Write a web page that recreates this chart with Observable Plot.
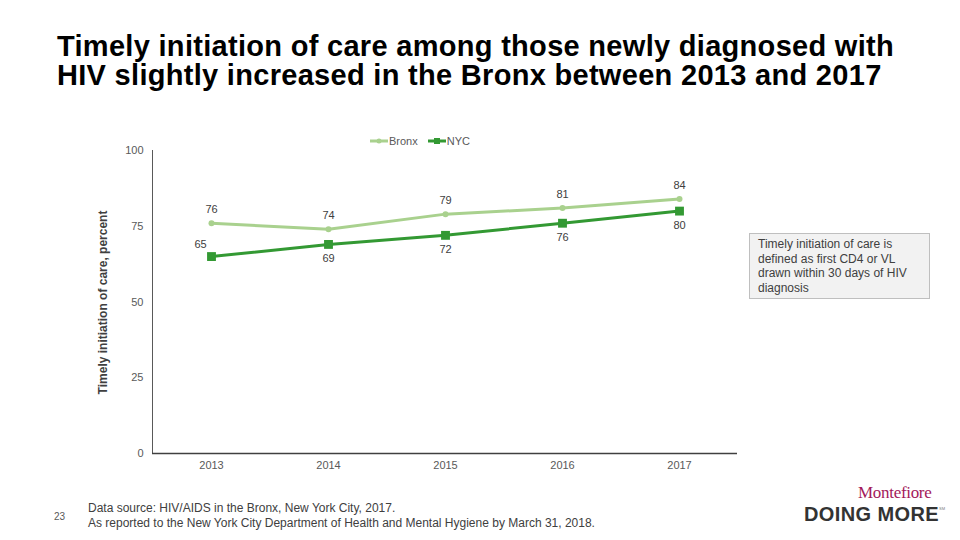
<!DOCTYPE html>
<html>
<head>
<meta charset="utf-8">
<script src="https://cdn.jsdelivr.net/npm/d3@7"></script>
<script src="https://cdn.jsdelivr.net/npm/@observablehq/plot@0.6"></script>
<style>
  html, body { margin: 0; padding: 0; background: #fff; }
  body { width: 960px; height: 540px; position: relative; overflow: hidden; font-family: "Liberation Sans", Arial, sans-serif; }
  #title { position: absolute; left: 57px; top: 32px; font-size: 29px; font-weight: bold; color: #000; line-height: 29px; letter-spacing: 0.3px; }
  #chart { position: absolute; left: 0; top: 130px; }
  #legend { position: absolute; left: 370px; top: 135px; font-size: 11px; color: #595959; display: flex; align-items: center; }
  #legend .item { display: flex; align-items: center; margin-right: 10px; }
  #note { position: absolute; left: 749px; top: 233px; width: 164px; height: 57px; background: #f2f2f2; border: 1px solid #bfbfbf; padding: 3px 7px 4px 8px; font-size: 12px; line-height: 14.5px; color: #404040; }
  #page { position: absolute; left: 54px; top: 511px; font-size: 10px; color: #595959; }
  #source { position: absolute; left: 88px; top: 501px; font-size: 12px; line-height: 15px; color: #404040; }
  #logo1 { position: absolute; left: 858px; top: 485px; line-height: 15px; font-family: "Liberation Serif", "DejaVu Serif", serif; font-size: 17px; color: #a3195b; letter-spacing: -0.3px; }
  #logo2 { position: absolute; left: 804px; top: 505px; line-height: 18px; font-size: 20px; font-weight: bold; color: #333; letter-spacing: 0.4px; }
  #sm { position: absolute; left: 939px; top: 507px; line-height: 4px; font-size: 4px; color: #777; }
</style>
</head>
<body>
<div id="title">Timely initiation of care among those newly diagnosed with<br>HIV slightly increased in the Bronx between 2013 and 2017</div>
<div id="chart"></div>
<div id="legend"></div>
<div id="note">Timely initiation of care is defined as first CD4 or VL drawn within 30 days of HIV diagnosis</div>
<div id="page">23</div>
<div id="source">Data source: HIV/AIDS in the Bronx, New York City, 2017.<br>As reported to the New York City Department of Health and Mental Hygiene by March 31, 2018.</div>
<div id="logo1">Montefiore</div>
<div id="logo2">DOING MORE</div>
<div id="sm">SM</div>
<script>
const years = ["2013", "2014", "2015", "2016", "2017"];
const bronx = [76, 74, 79, 81, 84];
const nyc = [65, 69, 72, 76, 80];
const yTicks = [0, 25, 50, 75, 100];
const seriesNames = ["Bronx", "NYC"];
const seriesColors = ["#a9d18e", "#339933"];

const rows = [];
years.forEach((y, i) => {
  rows.push({year: y, series: "Bronx", value: bronx[i]});
  rows.push({year: y, series: "NYC", value: nyc[i]});
});
const bRows = rows.filter(d => d.series === "Bronx");
const nRows = rows.filter(d => d.series === "NYC");
const nFirst = nRows.filter(d => d.year === years[0]);
const nRest = nRows.filter(d => d.year !== years[0]);

const chart = Plot.plot({
  width: 960,
  height: 350,
  marginTop: 20,
  marginBottom: 27,
  marginLeft: 152,
  marginRight: 223,
  style: {fontFamily: "Liberation Sans, Arial, sans-serif", fontSize: "11px", color: "#595959", background: "transparent"},
  x: {type: "point", domain: years, padding: 0.5, label: null},
  y: {domain: [0, 100], label: null},
  marks: [
    Plot.axisY({ticks: yTicks, tickSize: 0, tickPadding: 9, label: null, fill: "#595959"}),
    Plot.axisX({tickSize: 0, tickPadding: 8, label: null, fill: "#595959"}),
    Plot.frame({anchor: "left", stroke: "#595959"}),
    Plot.ruleY([0], {stroke: "#404040", strokeWidth: 1.3}),
    Plot.line(bRows, {x: "year", y: "value", stroke: seriesColors[0], strokeWidth: 3}),
    Plot.dot(bRows, {x: "year", y: "value", fill: seriesColors[0], r: 3}),
    Plot.line(nRows, {x: "year", y: "value", stroke: seriesColors[1], strokeWidth: 3}),
    Plot.dot(nRows, {x: "year", y: "value", fill: seriesColors[1], symbol: "square", r: 5}),
    Plot.text(bRows, {x: "year", y: "value", text: "value", dy: -14, fill: "#404040", fontSize: 11}),
    Plot.text(nRest, {x: "year", y: "value", text: "value", dy: 14, fill: "#404040", fontSize: 11}),
    Plot.text(nFirst, {x: "year", y: "value", text: "value", dy: -12, dx: -11, fill: "#404040", fontSize: 11})
  ]
});
// y-axis title
const svg = d3.select(chart);
svg.append("text")
  .attr("transform", `translate(107, ${(20 + 323) / 2 + 1}) rotate(-90)`)
  .attr("text-anchor", "middle")
  .attr("font-size", 12)
  .attr("font-weight", "bold")
  .attr("fill", "#404040")
  .text("Timely initiation of care, percent");
document.getElementById("chart").appendChild(chart);

// legend
const legend = document.getElementById("legend");
seriesNames.forEach((name, i) => {
  const item = document.createElement("div");
  item.className = "item";
  const sym = i === 0
    ? `<circle cx="9" cy="5" r="2.5" fill="${seriesColors[i]}"/>`
    : `<rect x="6" y="2" width="6" height="6" fill="${seriesColors[i]}"/>`;
  item.innerHTML = `<svg width="19" height="10"><line x1="0" x2="18" y1="5" y2="5" stroke="${seriesColors[i]}" stroke-width="3"/>${sym}</svg><span>${name}</span>`;
  legend.appendChild(item);
});
</script>
</body>
</html>
